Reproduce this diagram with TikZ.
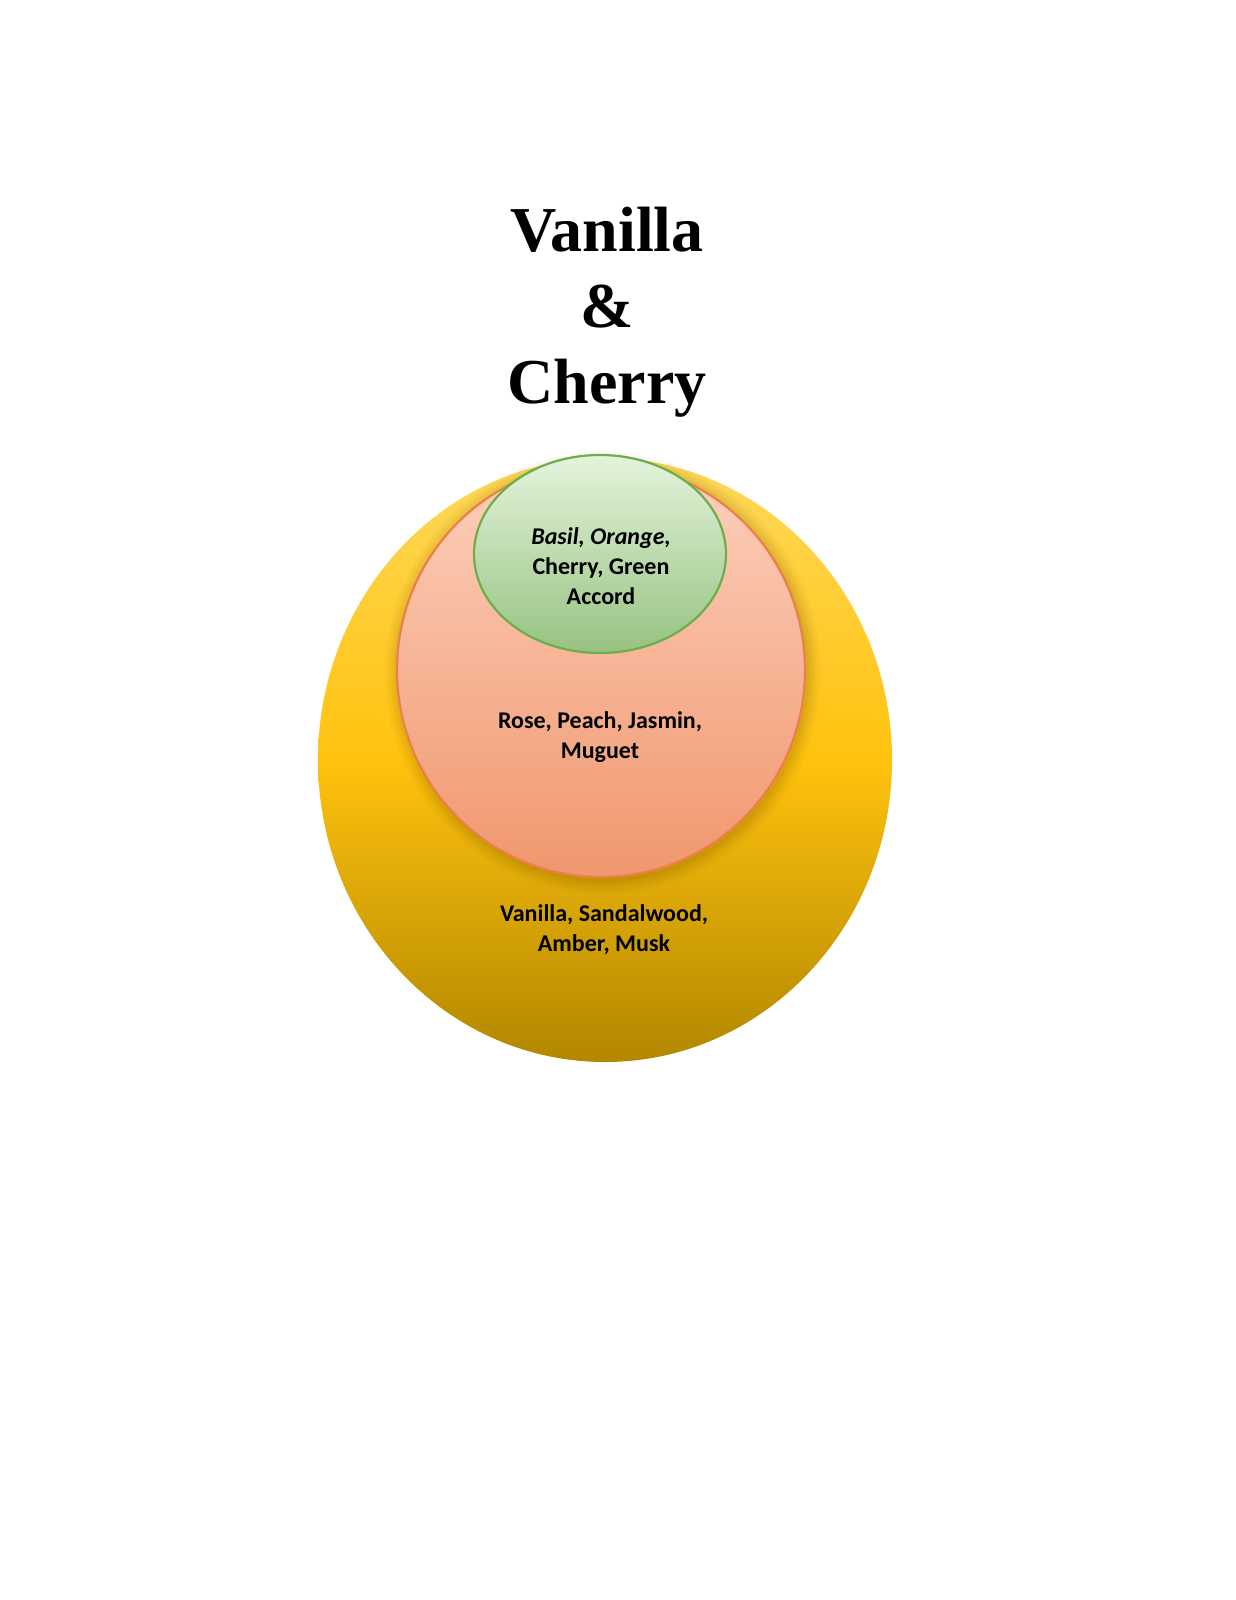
\documentclass[tikz,border=0pt]{standalone}
\usepackage{fontspec}
\setmainfont{Liberation Serif}
\newfontfamily\calfont{Carlito}
\begin{document}
\begin{tikzpicture}[x=0.5pt,y=-0.5pt]
\definecolor{ytop}{HTML}{FFD95A}
\definecolor{ymid}{HTML}{FFC20E}
\definecolor{ybot}{HTML}{B28700}
\definecolor{ptop}{HTML}{FDD0BC}
\definecolor{pbot}{HTML}{F0976E}
\definecolor{pline}{HTML}{EC8048}
\definecolor{gtop}{HTML}{E4F4DC}
\definecolor{gbot}{HTML}{97C282}
\definecolor{gline}{HTML}{6BAE4A}
\definecolor{shadowc}{HTML}{6A4A00}
\tikzset{
  notetext/.style={font=\calfont\bfseries\fontsize{12}{15}\selectfont, align=center, text=black, inner sep=0pt},
  titletext/.style={font=\bfseries\fontsize{32}{38}\selectfont, align=center, inner sep=0pt}
}
\useasboundingbox (0,0) rectangle (1236,1600);
\fill[white] (0,0) rectangle (1236,1600);
% outer
\shade[top color=ytop, bottom color=ybot, middle color=ymid] (605,760) ellipse [x radius=287, y radius=302];
\node[coordinate] (outer) at (605,760) {};
% soft shadow of pink circle
\foreach \r/\o in {14/0.03,11/0.04,8/0.05,5/0.06,2/0.07}{
  \fill[shadowc, opacity=\o] (603,673) ellipse [x radius=204+\r, y radius=207+\r];
}
\shade[top color=ptop, bottom color=pbot] (601,670) ellipse [x radius=204, y radius=207];
\draw[pline, line width=1.1pt] (601,670) ellipse [x radius=204, y radius=207];
\node[coordinate] (mid) at (601,670) {};
% green
\shade[top color=gtop, bottom color=gbot] (600,554) ellipse [x radius=126, y radius=99];
\draw[gline, line width=1.1pt] (600,554) ellipse [x radius=126, y radius=99];
\node[coordinate] (inner) at (600,554) {};
% texts
\node[titletext] (title) at (607,312) {Vanilla\\\&\\Cherry};
\node[notetext] (ttop) at (601,566) {\textit{Basil, Orange,}\\Cherry, Green\\Accord};
\node[notetext] (tmid) at (600,737) {Rose, Peach, Jasmin,\\Muguet};
\node[notetext] (tbot) at (604,930) {Vanilla, Sandalwood,\\Amber, Musk};
\end{tikzpicture}
\end{document}
